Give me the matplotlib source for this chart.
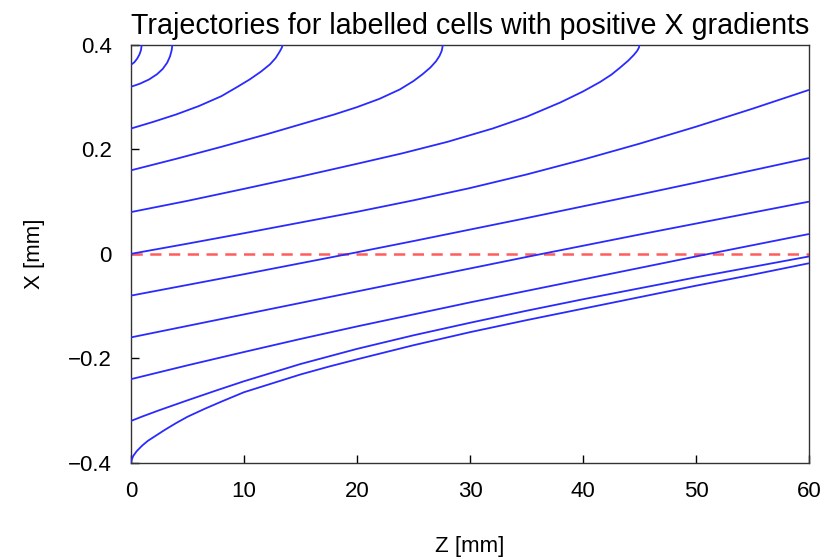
import matplotlib
matplotlib.use("Agg")
import matplotlib.pyplot as plt

# ---- data (Z in mm, X in mm) ----
z_m040 = [0, 0.05, 0.2, 0.5, 1, 1.5, 2, 3, 4, 5, 6.5, 8, 10, 12.5, 15, 17.5, 20, 25, 30, 35, 40, 45, 50, 55, 60]
x_m040 = [-0.4, -0.395, -0.387, -0.378, -0.367, -0.358, -0.351, -0.337, -0.324, -0.312, -0.297, -0.283,
          -0.265, -0.248, -0.231, -0.216, -0.202, -0.175, -0.15, -0.127, -0.105, -0.083, -0.061, -0.04, -0.018]

z_m032 = [0, 1, 2.5, 5, 7.5, 10, 15, 20, 25, 30, 35, 40, 45, 50, 55, 60]
x_m032 = [-0.32, -0.3115, -0.2995, -0.2805, -0.262, -0.244, -0.211, -0.182, -0.156, -0.132, -0.109,
          -0.087, -0.066, -0.045, -0.025, -0.005]

z_m024 = [0, 5, 10, 15, 20, 25, 30, 35, 40, 45, 50, 55, 60]
x_m024 = [-0.24, -0.2135, -0.188, -0.163, -0.139, -0.116, -0.093, -0.071, -0.049, -0.027, -0.005, 0.0165, 0.038]

z_m016 = [0, 5, 10, 15, 20, 25, 30, 35, 40, 45, 50, 55, 60]
x_m016 = [-0.16, -0.138, -0.116, -0.094, -0.072, -0.05, -0.028, -0.006, 0.0155, 0.037, 0.058, 0.079, 0.1]

z_m008 = [0, 5, 10, 15, 20, 25, 30, 35, 40, 45, 50, 55, 60]
x_m008 = [-0.08, -0.0595, -0.039, -0.018, 0.003, 0.0245, 0.0465, 0.0685, 0.091, 0.1135, 0.1365, 0.16, 0.1835]

z_p000 = [0, 5, 10, 15, 20, 25, 30, 35, 40, 45, 50, 55, 60]
x_p000 = [0.0, 0.0195, 0.0395, 0.06, 0.0805, 0.1025, 0.126, 0.152, 0.1805, 0.211, 0.2435, 0.278, 0.314]

z_p008 = [0, 5, 10, 15, 20, 24, 28, 32, 35, 38, 40, 41.5, 42.5, 43.3, 44.0, 44.5, 44.8, 44.95, 45.0]
x_p008 = [0.08, 0.1015, 0.1245, 0.148, 0.1725, 0.1925, 0.2145, 0.240, 0.2625, 0.290, 0.311, 0.329,
          0.343, 0.357, 0.370, 0.381, 0.389, 0.395, 0.4]

z_p016 = [0, 4, 8, 12, 15, 18, 20, 22, 23.8, 25, 25.8, 26.5, 27.0, 27.3, 27.5, 27.6]
x_p016 = [0.16, 0.182, 0.205, 0.229, 0.248, 0.267, 0.281, 0.297, 0.315, 0.331, 0.344, 0.357,
          0.369, 0.379, 0.389, 0.4]

z_p024 = [0, 2, 4, 6, 8, 9.35, 10.5, 11.5, 12.3, 12.8, 13.15, 13.35, 13.42]
x_p024 = [0.24, 0.253, 0.267, 0.283, 0.302, 0.319, 0.334, 0.349, 0.363, 0.375, 0.387, 0.395, 0.4]

z_p032 = [0, 0.8, 1.6, 2.3, 2.8, 3.2, 3.45, 3.6, 3.66]
x_p032 = [0.32, 0.326, 0.334, 0.344, 0.354, 0.366, 0.378, 0.39, 0.4]

z_p036 = [0, 0.3, 0.55, 0.75, 0.88, 0.95]
x_p036 = [0.362, 0.367, 0.374, 0.382, 0.39, 0.4]

trajectories = [
    (z_m040, x_m040), (z_m032, x_m032), (z_m024, x_m024), (z_m016, x_m016),
    (z_m008, x_m008), (z_p000, x_p000), (z_p008, x_p008), (z_p016, x_p016),
    (z_p024, x_p024), (z_p032, x_p032), (z_p036, x_p036),
]

x_ticks = [0, 10, 20, 30, 40, 50, 60]
y_ticks = [-0.4, -0.2, 0.0, 0.2, 0.4]
y_ticklabels = ["\u22120.4", "\u22120.2", "0", "0.2", "0.4"]

plt.rcParams["font.family"] = ["Liberation Sans", "DejaVu Sans"]

fig = plt.figure(figsize=(8.26, 5.6), dpi=100)
ax = fig.add_axes([131 / 826, 1 - 462.7 / 560, (809 - 131) / 826, (462.7 - 45) / 560])

for z, x in trajectories:
    ax.plot(z, x, color="#2a2aff", lw=1.3, solid_capstyle="butt", solid_joinstyle="round", zorder=3)

ax.axhline(0, color="#ff5c5c", lw=1.8, dashes=(4.5, 3), zorder=2)

ax.set_xlim(0, 60)
ax.set_ylim(-0.4, 0.4)
ax.set_xticks(x_ticks)
ax.set_xticklabels([str(t) for t in x_ticks])
ax.set_yticks(y_ticks)
ax.set_yticklabels(y_ticklabels)
ax.tick_params(direction="in", length=6, width=1, labelsize=16, colors="black")
ax.tick_params(axis="y", pad=14)
ax.tick_params(axis="x", pad=13)
ax.tick_params(top=False, right=False)
for s in ax.spines.values():
    s.set_linewidth(1.0)
    s.set_color("#333333")

ax.set_xlabel("Z [mm]", fontsize=16, labelpad=25)
ax.set_ylabel("X [mm]", fontsize=16, labelpad=16)
ax.set_title("Trajectories for labelled cells with positive X gradients", fontsize=20.6, pad=8)

fig.savefig("out.png", dpi=100)
